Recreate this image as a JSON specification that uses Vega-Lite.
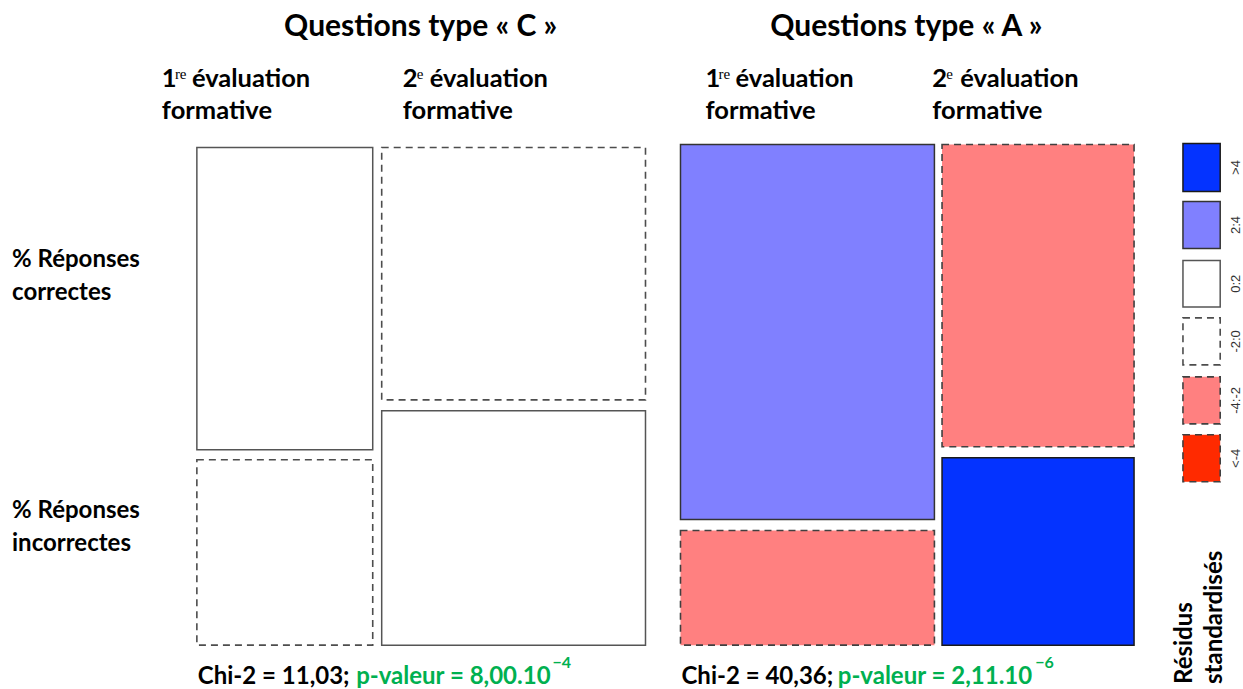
{
  "$schema": "https://vega.github.io/schema/vega-lite/v6.json",
  "width": 1243,
  "height": 689,
  "autosize": {"type": "fit", "contains": "padding"},
  "padding": 0,
  "background": "white",
  "config": {"view": {"stroke": null}, "font": "Lato"},
  "datasets": {
    "tiles": [
      {"panel": "C", "evaluation": "1re", "reponse": "correctes", "residual": "0:2", "sign": "positif", "x0": 0.0, "x1": 0.392, "y0": 0.391, "y1": 0.996},
      {"panel": "C", "evaluation": "1re", "reponse": "incorrectes", "residual": "-2:0", "sign": "négatif", "x0": 0.0, "x1": 0.392, "y0": 0.0, "y1": 0.371},
      {"panel": "C", "evaluation": "2e", "reponse": "correctes", "residual": "-2:0", "sign": "négatif", "x0": 0.412, "x1": 1.0, "y0": 0.491, "y1": 0.996},
      {"panel": "C", "evaluation": "2e", "reponse": "incorrectes", "residual": "0:2", "sign": "positif", "x0": 0.412, "x1": 1.0, "y0": 0.0, "y1": 0.469},
      {"panel": "A", "evaluation": "1re", "reponse": "correctes", "residual": "2:4", "sign": "positif", "x0": 1.078, "x1": 1.644, "y0": 0.2515, "y1": 1.002},
      {"panel": "A", "evaluation": "1re", "reponse": "incorrectes", "residual": "-4:-2", "sign": "négatif", "x0": 1.078, "x1": 1.644, "y0": 0.0, "y1": 0.2295},
      {"panel": "A", "evaluation": "2e", "reponse": "correctes", "residual": "-4:-2", "sign": "négatif", "x0": 1.661, "x1": 2.089, "y0": 0.397, "y1": 1.002},
      {"panel": "A", "evaluation": "2e", "reponse": "incorrectes", "residual": ">4", "sign": "positif", "x0": 1.661, "x1": 2.089, "y0": 0.0, "y1": 0.375}
    ],
    "legend": [
      {"residual": ">4", "sign": "positif", "top": 1.004, "bottom": 0.908, "mid": 0.956},
      {"residual": "2:4", "sign": "positif", "top": 0.888, "bottom": 0.794, "mid": 0.841},
      {"residual": "0:2", "sign": "positif", "top": 0.770, "bottom": 0.677, "mid": 0.7235},
      {"residual": "-2:0", "sign": "négatif", "top": 0.655, "bottom": 0.561, "mid": 0.608},
      {"residual": "-4:-2", "sign": "négatif", "top": 0.537, "bottom": 0.443, "mid": 0.490},
      {"residual": "<-4", "sign": "négatif", "top": 0.421, "bottom": 0.327, "mid": 0.374}
    ],
    "titles": [
      {"text": "Questions type « C »", "x": 0.4989, "y": 1.2196},
      {"text": "Questions type « A »", "x": 1.5813, "y": 1.2196}
    ],
    "collabels": [
      {"text": "1", "x": -0.078, "y": 1.1178},
      {"text": "évaluation", "x": -0.0111, "y": 1.1178},
      {"text": "formative", "x": -0.078, "y": 1.0539},
      {"text": "2", "x": 0.4588, "y": 1.1178},
      {"text": "évaluation", "x": 0.5189, "y": 1.1178},
      {"text": "formative", "x": 0.4588, "y": 1.0539},
      {"text": "1", "x": 1.1336, "y": 1.1178},
      {"text": "évaluation", "x": 1.2005, "y": 1.1178},
      {"text": "formative", "x": 1.1336, "y": 1.0539},
      {"text": "2", "x": 1.6392, "y": 1.1178},
      {"text": "évaluation", "x": 1.7016, "y": 1.1178},
      {"text": "formative", "x": 1.6392, "y": 1.0539}
    ],
    "rowlabels": [
      {"text": "% Réponses", "x": -0.412, "y": 0.7565},
      {"text": "correctes", "x": -0.412, "y": 0.6906},
      {"text": "% Réponses", "x": -0.412, "y": 0.2535},
      {"text": "incorrectes", "x": -0.412, "y": 0.1876}
    ],
    "sups": [
      {"text": "re", "x": -0.0490, "y": 1.1337},
      {"text": "e", "x": 0.4900, "y": 1.1337},
      {"text": "re", "x": 1.1626, "y": 1.1337},
      {"text": "e", "x": 1.6704, "y": 1.1337}
    ],
    "chi": [
      {"text": "Chi-2 = 11,03;", "x": 0.0022, "y": -0.0778},
      {"text": "Chi-2 = 40,36;", "x": 1.0802, "y": -0.0778}
    ],
    "pval": [
      {"text": "p-valeur = 8,00.10", "x": 0.7884, "y": -0.0778},
      {"text": "p-valeur = 2,11.10", "x": 1.8619, "y": -0.0778}
    ],
    "pexp": [
      {"text": "−4", "x": 0.7929, "y": -0.0459},
      {"text": "−6", "x": 1.8686, "y": -0.0459}
    ],
    "legtitle": [
      {"text": "Résidus", "x": 2.2183, "y": -0.0778},
      {"text": "standardisés", "x": 2.2851, "y": -0.0778}
    ]
  },
  "layer": [
    {
      "data": {"name": "tiles"},
      "transform": [{"filter": "datum.sign === 'positif'"}],
      "mark": {"type": "rect", "strokeWidth": 1.5},
      "encoding": {
        "x": {"field": "x0", "type": "quantitative", "scale": {"domain": [-0.4388, 2.3296], "nice": false, "zero": false}, "axis": null},
        "x2": {"field": "x1"},
        "y": {"field": "y0", "type": "quantitative", "scale": {"domain": [-0.0838, 1.2914], "nice": false, "zero": false}, "axis": null},
        "y2": {"field": "y1"},
        "fill": {"field": "residual", "type": "nominal", "scale": {"domain": [">4", "2:4", "0:2", "-2:0", "-4:-2", "<-4"], "range": ["#0433FF", "#8080FF", "#FFFFFF", "#FFFFFF", "#FF8080", "#FF2A00"]}, "legend": null},
        "stroke": {"field": "residual", "type": "nominal", "scale": {"domain": [">4", "2:4", "0:2", "-2:0", "-4:-2", "<-4"], "range": ["#1a1a1a", "#333333", "#555555", "#4d4d4d", "#404040", "#404040"]}, "legend": null}
      }
    },
    {
      "data": {"name": "tiles"},
      "transform": [{"filter": "datum.sign === 'négatif'"}],
      "mark": {"type": "rect", "strokeWidth": 1.6, "strokeDash": [7, 5]},
      "encoding": {
        "x": {"field": "x0", "type": "quantitative"},
        "x2": {"field": "x1"},
        "y": {"field": "y0", "type": "quantitative"},
        "y2": {"field": "y1"},
        "fill": {"field": "residual", "type": "nominal", "legend": null},
        "stroke": {"field": "residual", "type": "nominal", "legend": null}
      }
    },
    {
      "data": {"name": "legend"},
      "transform": [{"filter": "datum.sign === 'positif'"}],
      "mark": {"type": "rect", "strokeWidth": 1.5},
      "encoding": {
        "x": {"datum": 2.198, "type": "quantitative"},
        "x2": {"datum": 2.281},
        "y": {"field": "bottom", "type": "quantitative"},
        "y2": {"field": "top"},
        "fill": {"field": "residual", "type": "nominal", "legend": null},
        "stroke": {"field": "residual", "type": "nominal", "legend": null}
      }
    },
    {
      "data": {"name": "legend"},
      "transform": [{"filter": "datum.sign === 'négatif'"}],
      "mark": {"type": "rect", "strokeWidth": 1.6, "strokeDash": [7, 5]},
      "encoding": {
        "x": {"datum": 2.198, "type": "quantitative"},
        "x2": {"datum": 2.281},
        "y": {"field": "bottom", "type": "quantitative"},
        "y2": {"field": "top"},
        "fill": {"field": "residual", "type": "nominal", "legend": null},
        "stroke": {"field": "residual", "type": "nominal", "legend": null}
      }
    },
    {
      "data": {"name": "legend"},
      "mark": {"type": "text", "font": "Liberation Sans", "fontSize": 13, "angle": 270, "align": "center", "baseline": "middle", "color": "#333333"},
      "encoding": {
        "x": {"datum": 2.316, "type": "quantitative"},
        "y": {"field": "mid", "type": "quantitative"},
        "text": {"field": "residual"}
      }
    },
    {
      "data": {"name": "titles"},
      "mark": {"type": "text", "fontSize": 30, "fontWeight": "bold", "align": "center", "baseline": "alphabetic", "color": "#000000"},
      "encoding": {
        "x": {"field": "x", "type": "quantitative"},
        "y": {"field": "y", "type": "quantitative"},
        "text": {"field": "text"}
      }
    },
    {
      "data": {"name": "collabels"},
      "mark": {"type": "text", "fontSize": 25.5, "fontWeight": "bold", "align": "left", "baseline": "alphabetic", "color": "#000000"},
      "encoding": {
        "x": {"field": "x", "type": "quantitative"},
        "y": {"field": "y", "type": "quantitative"},
        "text": {"field": "text"}
      }
    },
    {
      "data": {"name": "rowlabels"},
      "mark": {"type": "text", "fontSize": 24, "fontWeight": "bold", "align": "left", "baseline": "alphabetic", "color": "#000000"},
      "encoding": {
        "x": {"field": "x", "type": "quantitative"},
        "y": {"field": "y", "type": "quantitative"},
        "text": {"field": "text"}
      }
    },
    {
      "data": {"name": "sups"},
      "mark": {"type": "text", "font": "Liberation Serif", "fontSize": 15, "align": "left", "baseline": "alphabetic", "color": "#000000"},
      "encoding": {
        "x": {"field": "x", "type": "quantitative"},
        "y": {"field": "y", "type": "quantitative"},
        "text": {"field": "text"}
      }
    },
    {
      "data": {"name": "chi"},
      "mark": {"type": "text", "fontSize": 24, "fontWeight": "bold", "align": "left", "baseline": "alphabetic", "color": "#000000"},
      "encoding": {
        "x": {"field": "x", "type": "quantitative"},
        "y": {"field": "y", "type": "quantitative"},
        "text": {"field": "text"}
      }
    },
    {
      "data": {"name": "pval"},
      "mark": {"type": "text", "fontSize": 24, "fontWeight": "bold", "align": "right", "baseline": "alphabetic", "color": "#00B050"},
      "encoding": {
        "x": {"field": "x", "type": "quantitative"},
        "y": {"field": "y", "type": "quantitative"},
        "text": {"field": "text"}
      }
    },
    {
      "data": {"name": "pexp"},
      "mark": {"type": "text", "fontSize": 16, "fontWeight": "bold", "align": "left", "baseline": "alphabetic", "color": "#00B050"},
      "encoding": {
        "x": {"field": "x", "type": "quantitative"},
        "y": {"field": "y", "type": "quantitative"},
        "text": {"field": "text"}
      }
    },
    {
      "data": {"name": "legtitle"},
      "mark": {"type": "text", "fontSize": 24, "fontWeight": "bold", "angle": 270, "align": "left", "baseline": "alphabetic", "color": "#000000"},
      "encoding": {
        "x": {"field": "x", "type": "quantitative"},
        "y": {"field": "y", "type": "quantitative"},
        "text": {"field": "text"}
      }
    }
  ]
}
